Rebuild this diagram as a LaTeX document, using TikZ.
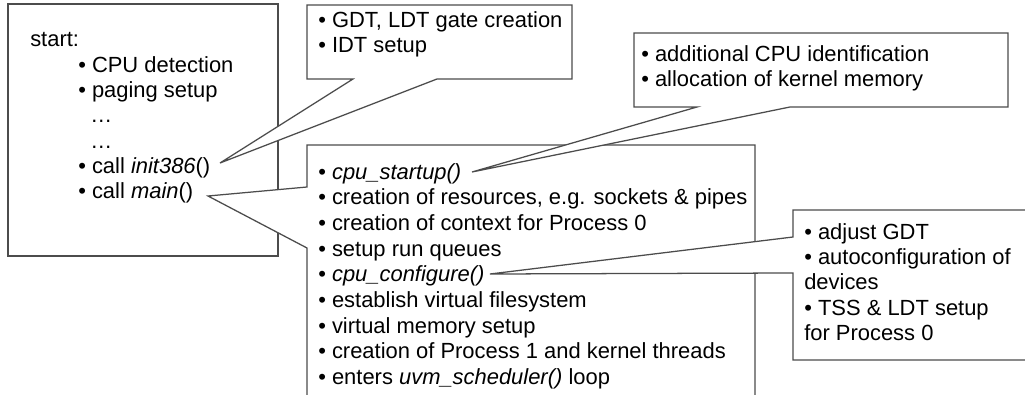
\documentclass[tikz,border=0pt]{standalone}
\usepackage{fontspec}
\setmainfont{Liberation Sans}
\usepackage{tikz}
\usetikzlibrary{calc}

\tikzset{
  boxline/.style={draw=black!70, line width=0.9pt, fill=white, line join=miter},
  txt/.style={anchor=base west, font=\fontsize{15.6}{18}\selectfont}
}

\begin{document}
\begin{tikzpicture}[scale=0.25]
                \tikzstyle{every node}+=[inner sep=0pt]
                \useasboundingbox (0,0) rectangle (102.5,-39.5);
                % callout tips
                \coordinate (tipInit) at (22.0,-16.3);
                \coordinate (tipMain) at (20.8,-19.6);
                \coordinate (tipStart) at (47.2,-17.2);
                \coordinate (tipConf) at (49.0,-27.4);
                % start box
                \draw [boxline] (0.8,-0.4) rectangle (27.8,-25.6);
                % main() box
                \draw [boxline] (30.7,-14.5) -- (75.5,-14.5) -- (75.5,-40.5) -- (30.7,-40.5) -- (30.7,-24.8) -- (tipMain) -- (30.7,-18.7) -- cycle;
                % init386() box
                \draw [boxline] (30.7,-0.5) -- (57.2,-0.5) -- (57.2,-7.9) -- (43.7,-7.9) -- (tipInit) -- (35.3,-7.9) -- (30.7,-7.9) -- cycle;
                % cpu_startup() box
                \draw [boxline] (63.4,-3.3) -- (100.8,-3.3) -- (100.8,-10.7) -- (79.0,-10.7) -- (tipStart) -- (69.7,-10.7) -- (63.4,-10.7) -- cycle;
                % cpu_configure() box
                \draw [boxline] (79.3,-21.0) -- (103.5,-21.0) -- (103.5,-36.0) -- (79.3,-36.0) -- (79.3,-27.3) -- (tipConf) -- (79.3,-23.7) -- cycle;
                % start box text
                \node [txt] (start) at (3.0,-4.7) {start:};
                \node [txt] (cpudet) at (7.8,-7.23) {• CPU detection};
                \node [txt] (paging) at (7.8,-9.76) {• paging setup};
                \node [txt] (dotsa) at (9.0,-12.29) {…};
                \node [txt] (dotsb) at (9.0,-14.82) {…};
                \node [txt] (callinit) at (7.8,-17.35) {• call \textit{init386}()};
                \node [txt] (callmain) at (7.8,-19.88) {• call \textit{main}()};
                % init386 text
                \node [txt] (gdt) at (31.8,-2.75) {• GDT, LDT gate creation};
                \node [txt] (idt) at (31.8,-5.25) {• IDT setup};
                % cpu_startup text
                \node [txt] (addcpu) at (64.1,-6.2) {• additional CPU identification};
                \node [txt] (kmem) at (64.1,-8.65) {• allocation of kernel memory};
                % main text
                \node [txt] (cpustart) at (31.8,-17.9) {• \textit{cpu\_startup()}};
                \node [txt] (resrc) at (31.8,-20.47) {• creation of resources, e.g. sockets \& pipes};
                \node [txt] (ctx) at (31.8,-23.04) {• creation of context for Process 0};
                \node [txt] (runq) at (31.8,-25.61) {• setup run queues};
                \node [txt] (cpuconf) at (31.8,-28.18) {• \textit{cpu\_configure()}};
                \node [txt] (vfs) at (31.8,-30.75) {• establish virtual filesystem};
                \node [txt] (vmem) at (31.8,-33.32) {• virtual memory setup};
                \node [txt] (proc1) at (31.8,-35.89) {• creation of Process 1 and kernel threads};
                \node [txt] (sched) at (31.8,-38.46) {• enters \textit{uvm\_scheduler()} loop};
                % cpu_configure text
                \node [txt] (adjgdt) at (80.4,-23.9) {• adjust GDT};
                \node [txt] (autoconf) at (80.4,-26.43) {• autoconfiguration of};
                \node [txt] (devs) at (80.4,-28.96) {devices};
                \node [txt] (tss) at (80.4,-31.5) {• TSS \& LDT setup};
                \node [txt] (proc0) at (80.4,-34.03) {for Process 0};
            \end{tikzpicture}
\end{document}
